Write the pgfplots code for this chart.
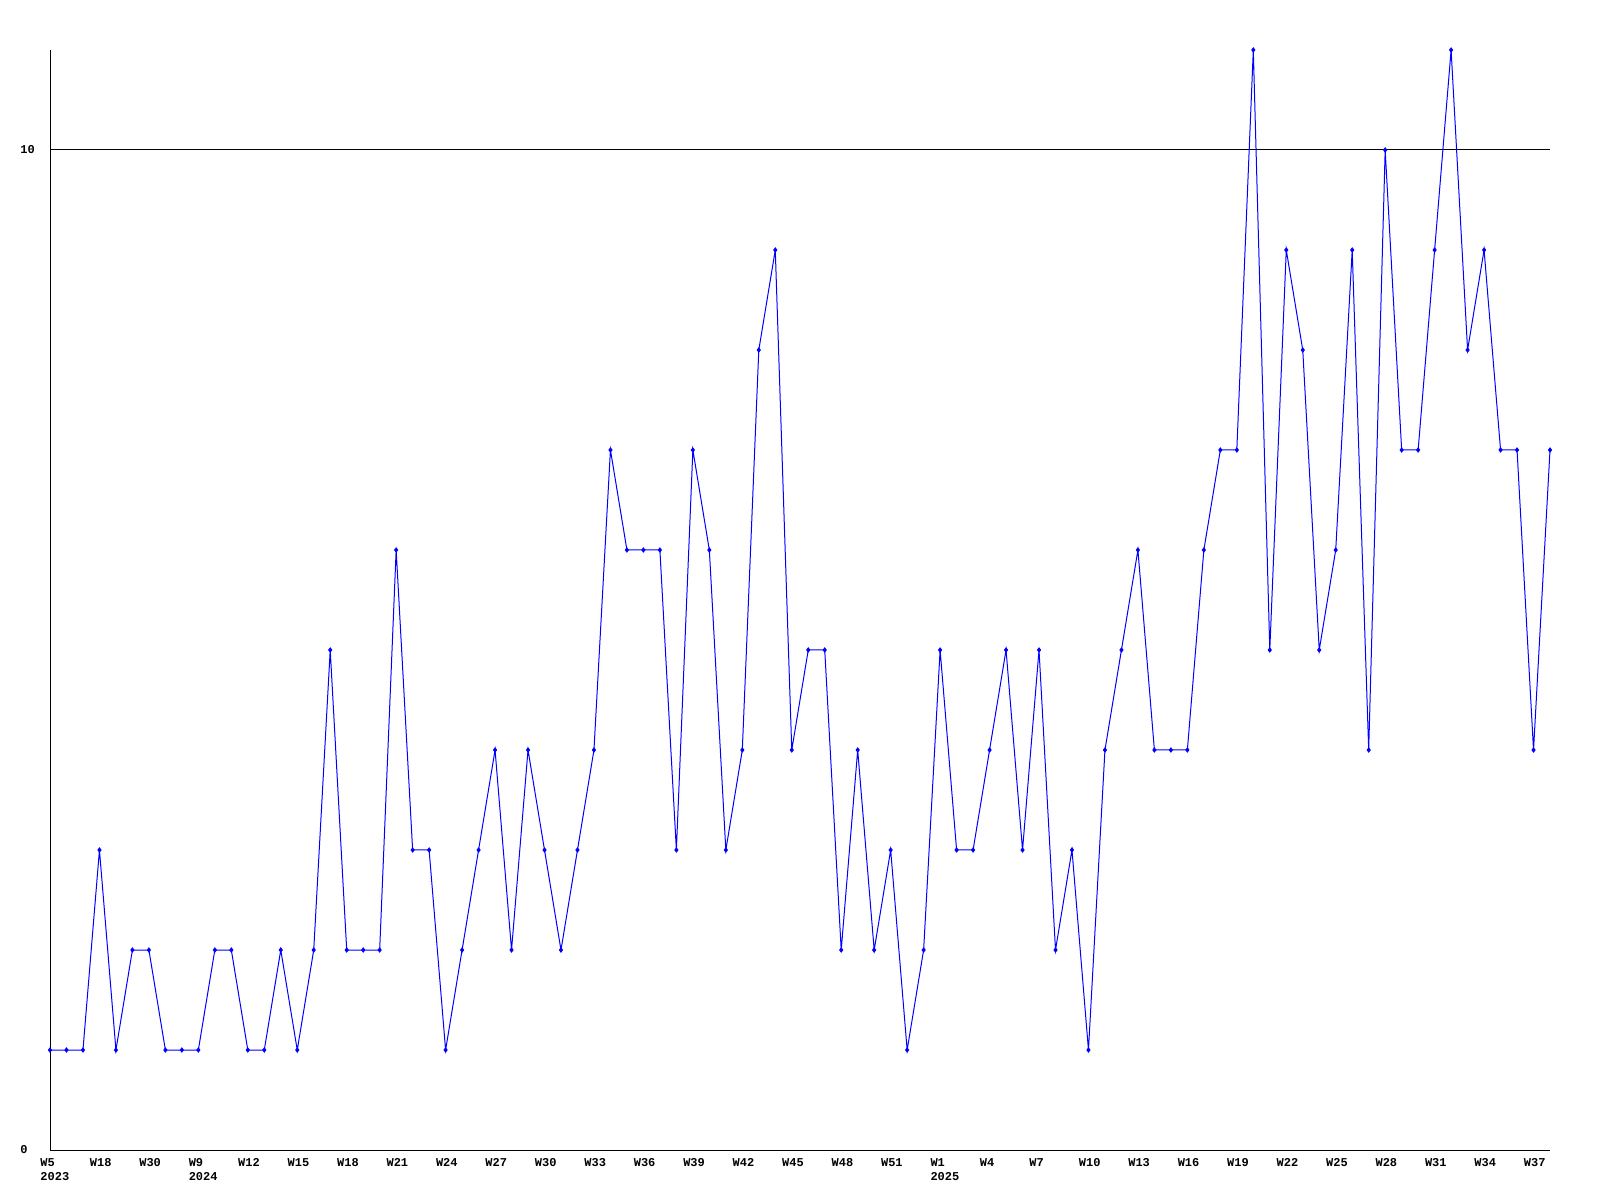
\documentclass[border=0pt]{standalone}
\usepackage{pgfplots}
\pgfplotsset{compat=1.18}
\usepackage{fontspec}
\setmainfont{Liberation Mono}
\begin{document}
\begin{tikzpicture}
\useasboundingbox (0,0) rectangle (800pt,600pt);
\begin{axis}[
  at={(25pt,25pt)}, anchor=south west,
  scale only axis, width=750pt, height=550pt,
  xmin=0, xmax=91, ymin=0, ymax=11,
  axis x line*=bottom, axis y line*=left,
  axis line style={black, line width=0.5pt, -},
  major tick length=0pt,
  xtick={0,3,...,90},
  xticklabels={W5\\2023,W18,W30,W9\\2024,W12,W15,W18,W21,W24,W27,W30,W33,W36,W39,W42,W45,W48,W51,W1\\2025,W4,W7,W10,W13,W16,W19,W22,W25,W28,W31,W34,W37},
  ytick={0,10}, yticklabels={0,10},
  ymajorgrids, grid style={black, line width=0.5pt},
  x tick label style={anchor=north west, align=left, inner sep=0pt, xshift=-5pt, yshift=-4pt, font=\fontsize{6}{7}\selectfont\bfseries},
  y tick label style={anchor=west, inner sep=0pt, xshift=-15pt, font=\fontsize{6}{7}\selectfont\bfseries},
  clip=false,
]
\addplot[blue, line width=0.5pt, mark=diamond*, mark size=1pt, mark options={blue}] coordinates {
(0,1)(1,1)(2,1)(3,3)(4,1)(5,2)(6,2)(7,1)(8,1)(9,1)
(10,2)(11,2)(12,1)(13,1)(14,2)(15,1)(16,2)(17,5)(18,2)(19,2)
(20,2)(21,6)(22,3)(23,3)(24,1)(25,2)(26,3)(27,4)(28,2)(29,4)
(30,3)(31,2)(32,3)(33,4)(34,7)(35,6)(36,6)(37,6)(38,3)(39,7)
(40,6)(41,3)(42,4)(43,8)(44,9)(45,4)(46,5)(47,5)(48,2)(49,4)
(50,2)(51,3)(52,1)(53,2)(54,5)(55,3)(56,3)(57,4)(58,5)(59,3)
(60,5)(61,2)(62,3)(63,1)(64,4)(65,5)(66,6)(67,4)(68,4)(69,4)
(70,6)(71,7)(72,7)(73,11)(74,5)(75,9)(76,8)(77,5)(78,6)(79,9)
(80,4)(81,10)(82,7)(83,7)(84,9)(85,11)(86,8)(87,9)(88,7)(89,7)
(90,4)(91,7)
};
\end{axis}
\end{tikzpicture}
\end{document}
